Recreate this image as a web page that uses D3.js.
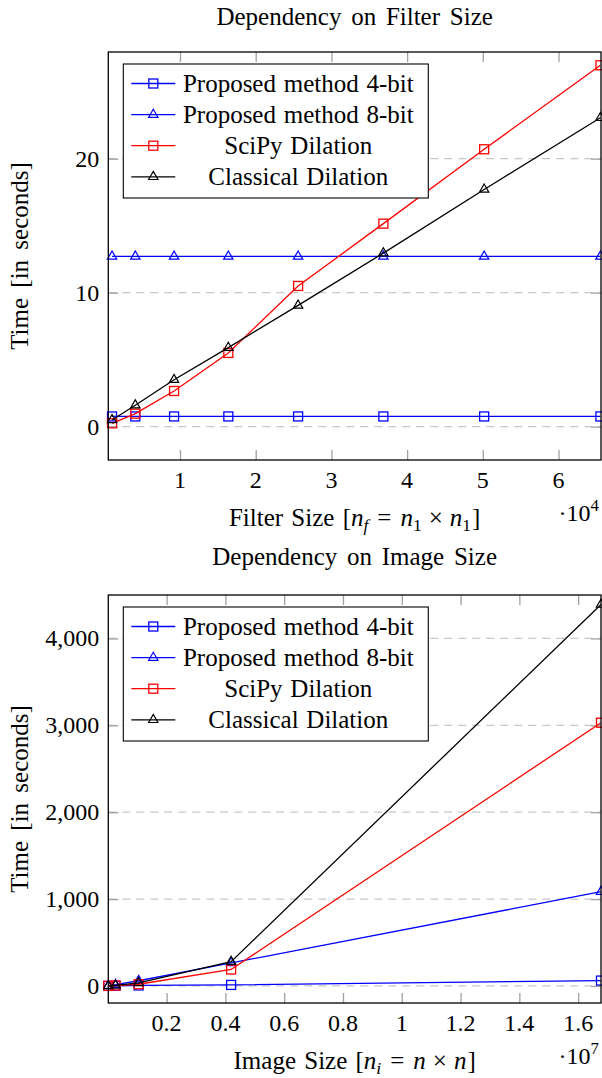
<!DOCTYPE html>
<html>
<head>
<meta charset="utf-8">
<script src="https://cdn.jsdelivr.net/npm/d3@7"></script>
<style>
  html, body { margin: 0; padding: 0; background: #fff; }
  svg { display: block; }
  text { font-family: "Liberation Serif", "Times New Roman", serif; fill: #000; }
</style>
</head>
<body>
<svg id="chart" width="602" height="1078"></svg>
<script>
// ---------- Data ----------
const seriesNames = ["Proposed method 4-bit", "Proposed method 8-bit", "SciPy Dilation", "Classical Dilation"];
const seriesColors = ["#0000ff", "#0000ff", "#ff0000", "#000000"];
const seriesMarkers = ["square", "triangle", "square", "triangle"];

// Top chart: filter size n_f = n1 x n1
const filterSizes = [1024, 4096, 9216, 16384, 25600, 36864, 50176, 65536];
const filter4bit = [0.76, 0.76, 0.76, 0.76, 0.76, 0.76, 0.76, 0.76];
const filter8bit = [12.7, 12.7, 12.7, 12.7, 12.7, 12.7, 12.7, 12.7];
const filterScipy = [0.25, 0.97, 2.66, 5.5, 10.5, 15.15, 20.7, 26.97];
const filterClassical = [0.5, 1.6, 3.5, 5.9, 9.05, 12.95, 17.7, 23.05];
const filterXTicks = [10000, 20000, 30000, 40000, 50000, 60000];
const filterXTickLabels = ["1", "2", "3", "4", "5", "6"];
const filterYTicks = [0, 10, 20];
const filterYTickLabels = ["0", "10", "20"];

// Bottom chart: image size n_i = n x n
const imageSizes = [16384, 262144, 1048576, 4194304, 16777216];
const image4bit = [1, 2, 6, 12, 62];
const image8bit = [3, 15, 60, 265, 1085];
const imageScipy = [1, 5, 20, 190, 3030];
const imageClassical = [1, 6, 35, 280, 4390];
const imageXTicks = [2e6, 4e6, 6e6, 8e6, 10e6, 12e6, 14e6, 16e6];
const imageXTickLabels = ["0.2", "0.4", "0.6", "0.8", "1", "1.2", "1.4", "1.6"];
const imageYTicks = [0, 1000, 2000, 3000, 4000];
const imageYTickLabels = ["0", "1,000", "2,000", "3,000", "4,000"];

// ---------- Drawing ----------
const svg = d3.select("#chart");
const FONT = 24;

function drawPanel(cfg) {
  const { left, right, top, bottom } = cfg.box;
  const x = d3.scaleLinear().domain(cfg.xDomain).range([left, right]);
  const y = d3.scaleLinear().domain(cfg.yDomain).range([bottom, top]);
  const g = svg.append("g");

  // title
  g.append("text").attr("x", (left + right) / 2).attr("y", cfg.titleY)
    .attr("text-anchor", "middle").attr("font-size", 25).attr("word-spacing", 3.5).text(cfg.title);

  // grid lines (dashed)
  g.append("g").selectAll("line").data(cfg.yTicks).join("line")
    .attr("x1", left).attr("x2", right)
    .attr("y1", d => y(d)).attr("y2", d => y(d))
    .attr("stroke", "#c8c8c8").attr("stroke-width", 1.3)
    .attr("stroke-dasharray", "8,6");

  // ticks via d3 axes (inner ticks, gray)
  const tickLen = 10;
  const axB = d3.axisBottom(x).tickValues(cfg.xTicks).tickSize(tickLen).tickFormat("");
  const axT = d3.axisTop(x).tickValues(cfg.xTicks).tickSize(tickLen).tickFormat("");
  const axL = d3.axisLeft(y).tickValues(cfg.yTicks).tickSize(tickLen).tickFormat("");
  const axR = d3.axisRight(y).tickValues(cfg.yTicks).tickSize(tickLen).tickFormat("");
  [[axB, `translate(0,${bottom - tickLen})`], [axT, `translate(0,${top + tickLen})`],
   [axL, `translate(${left + tickLen},0)`], [axR, `translate(${right - tickLen},0)`]].forEach(([ax, tr]) => {
    const a = g.append("g").attr("transform", tr).call(ax);
    a.select(".domain").remove();
    a.selectAll(".tick line").attr("stroke", "#a0a0a0").attr("stroke-width", 1.3);
  });

  // tick labels
  g.append("g").selectAll("text").data(cfg.xTicks).join("text")
    .attr("x", d => x(d)).attr("y", bottom + 28)
    .attr("text-anchor", "middle").attr("font-size", FONT)
    .text((d, i) => cfg.xTickLabels[i]);
  g.append("g").selectAll("text").data(cfg.yTicks).join("text")
    .attr("x", left - 9).attr("y", d => y(d) + 8)
    .attr("text-anchor", "end").attr("font-size", FONT)
    .text((d, i) => cfg.yTickLabels[i]);

  // y axis label
  g.append("text")
    .attr("transform", `translate(${28},${(top + bottom) / 2}) rotate(-90)`)
    .attr("text-anchor", "middle").attr("font-size", 25).attr("word-spacing", 4)
    .text("Time [in seconds]");

  // x axis label with math
  const xl = g.append("text").attr("x", (left + right) / 2).attr("y", bottom + 66)
    .attr("text-anchor", "middle").attr("font-size", 25).attr("word-spacing", 2);
  cfg.xLabel.forEach(p => {
    const t = xl.append("tspan").text(p.t);
    if (p.it) t.attr("font-style", "italic");
    if (p.sub) t.attr("font-size", 25 * 0.7).attr("dy", 5);
    if (p.up) t.attr("dy", -5);
    if (p.dx) t.attr("dx", p.dx);
  });

  // exponent
  const ex = g.append("text").attr("x", right - 2).attr("y", bottom + 61)
    .attr("text-anchor", "end").attr("font-size", FONT);
  ex.append("tspan").text("\u00b710");
  ex.append("tspan").text(cfg.exp).attr("font-size", FONT * 0.7).attr("dy", -10);

  // clip for series
  const clipId = "clip" + cfg.id;
  svg.append("clipPath").attr("id", clipId).append("rect")
    .attr("x", left - 6).attr("y", top - 6).attr("width", right - left + 12).attr("height", bottom - top + 12);

  const sg = g.append("g").attr("clip-path", `url(#${clipId})`);
  const line = d3.line().x(d => x(d[0])).y(d => y(d[1]));
  cfg.series.forEach((vals, si) => {
    const pts = cfg.xs.map((xv, i) => [xv, vals[i]]);
    sg.append("path").datum(pts).attr("d", line)
      .attr("fill", "none").attr("stroke", seriesColors[si]).attr("stroke-width", 1.3);
    drawMarkers(sg, pts.map(p => [x(p[0]), y(p[1])]), seriesMarkers[si], seriesColors[si]);
  });

  // plot frame
  g.append("rect").attr("x", left).attr("y", top).attr("width", right - left).attr("height", bottom - top)
    .attr("fill", "none").attr("stroke", "#000").attr("stroke-width", 1.3);

  // legend
  const lx = left + 15, ly = top + 12, lw = 305, lh = 134;
  const lg = g.append("g");
  lg.append("rect").attr("x", lx).attr("y", ly).attr("width", lw).attr("height", lh)
    .attr("fill", "#fff").attr("stroke", "#000").attr("stroke-width", 1.1);
  seriesNames.forEach((name, i) => {
    const cy = ly + 19.5 + i * 31.1;
    lg.append("line").attr("x1", lx + 8).attr("x2", lx + 52).attr("y1", cy).attr("y2", cy)
      .attr("stroke", seriesColors[i]).attr("stroke-width", 1.3);
    drawMarkers(lg, [[lx + 30, cy]], seriesMarkers[i], seriesColors[i]);
    lg.append("text").attr("x", lx + 175).attr("y", cy + 8.5)
      .attr("text-anchor", "middle").attr("font-size", 25).attr("word-spacing", 1.5).text(name);
  });
}

function drawMarkers(parent, pts, type, color) {
  if (type === "square") {
    const s = 9;
    parent.append("g").selectAll("rect").data(pts).join("rect")
      .attr("x", d => d[0] - s / 2).attr("y", d => d[1] - s / 2)
      .attr("width", s).attr("height", s)
      .attr("fill", "none").attr("stroke", color).attr("stroke-width", 1.3);
  } else {
    const r = 5.4;
    parent.append("g").selectAll("path").data(pts).join("path")
      .attr("d", d => `M${d[0]},${d[1] - r}L${d[0] + 0.866 * r},${d[1] + 0.5 * r}L${d[0] - 0.866 * r},${d[1] + 0.5 * r}Z`)
      .attr("fill", "none").attr("stroke", color).attr("stroke-width", 1.2);
  }
}

drawPanel({
  id: "top",
  title: "Dependency on Filter Size",
  titleY: 25,
  box: { left: 108.3, right: 601, top: 52, bottom: 460 },
  xDomain: [528, 65612],
  yDomain: [-2.49, 27.96],
  xTicks: filterXTicks, xTickLabels: filterXTickLabels,
  yTicks: filterYTicks, yTickLabels: filterYTickLabels,
  xs: filterSizes,
  series: [filter4bit, filter8bit, filterScipy, filterClassical],
  xLabel: [{ t: "Filter Size [" }, { t: "n", it: true }, { t: "f", it: true, sub: true },
           { t: "=", dx: 9, up: true }, { t: "n", it: true, dx: 9 }, { t: "1", sub: true },
           { t: "\u00d7", dx: 7, up: true }, { t: "n", it: true, dx: 7 }, { t: "1", sub: true },
           { t: "]", up: true, dx: 1 }],
  exp: "4"
});

drawPanel({
  id: "bot",
  title: "Dependency on Image Size",
  titleY: 565,
  box: { left: 108.3, right: 601, top: 595, bottom: 1003 },
  xDomain: [16384, 16777216],
  yDomain: [-196, 4500],
  xTicks: imageXTicks, xTickLabels: imageXTickLabels,
  yTicks: imageYTicks, yTickLabels: imageYTickLabels,
  xs: imageSizes,
  series: [image4bit, image8bit, imageScipy, imageClassical],
  xLabel: [{ t: "Image Size [" }, { t: "n", it: true }, { t: "i", it: true, sub: true },
           { t: "=", dx: 9, up: true }, { t: "n", it: true, dx: 9 },
           { t: "\u00d7", dx: 7 }, { t: "n", it: true, dx: 7 }, { t: "]", dx: 1 }],
  exp: "7"
});
</script>
</body>
</html>
